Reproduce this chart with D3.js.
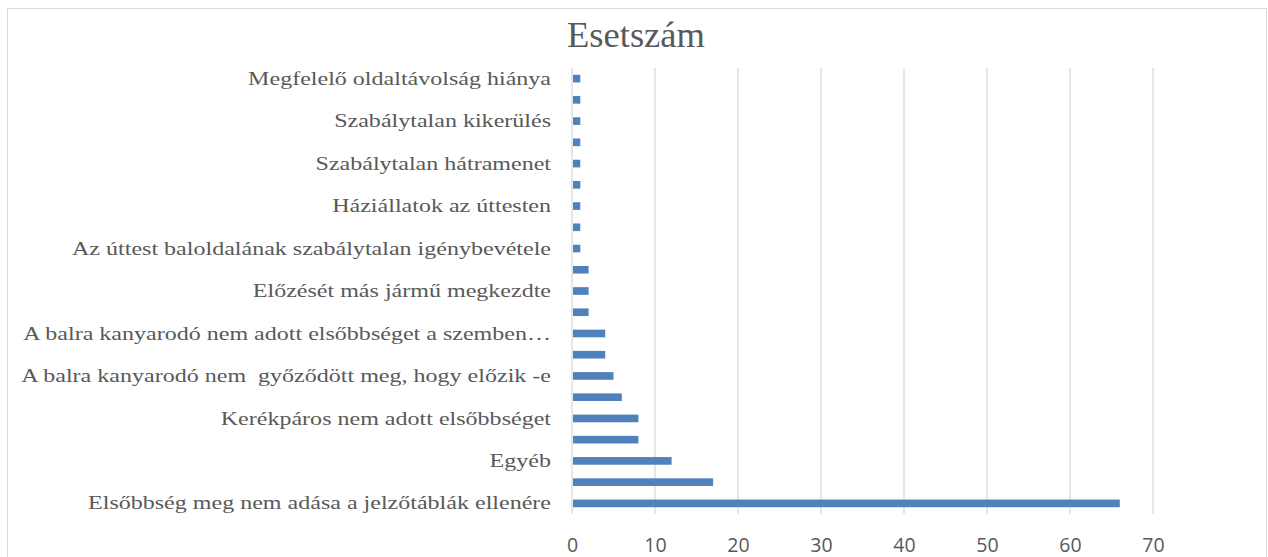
<!DOCTYPE html>
<html>
<head>
<meta charset="utf-8">
<script src="https://cdn.jsdelivr.net/npm/d3@7"></script>
<style>
  body { margin: 0; background: #fff; }
  .grid line { stroke: #d9d9d9; stroke-width: 1.3; }
  .cat text { font-family: "Liberation Serif", "Times New Roman", serif; font-size: 19px; fill: #595959; white-space: pre; }
  .val text { font-family: "Open Sans", "Liberation Sans", sans-serif; font-size: 19.5px; fill: #595959; }
</style>
</head>
<body>
<div id="chart-container"></div>
<script>
  // categories from top to bottom (only every other one has a visible label)
  var labels = [
    'Megfelelő oldaltávolság hiánya', '',
    'Szabálytalan kikerülés', '',
    'Szabálytalan hátramenet', '',
    'Háziállatok az úttesten', '',
    'Az úttest baloldalának szabálytalan igénybevétele', '',
    'Előzését más jármű megkezdte', '',
    'A balra kanyarodó nem adott elsőbbséget a szemben…', '',
    'A balra kanyarodó nem  győződött meg, hogy előzik -e', '',
    'Kerékpáros nem adott elsőbbséget', '',
    'Egyéb', '',
    'Elsőbbség meg nem adása a jelzőtáblák ellenére'
  ];
  var values = [1, 1, 1, 1, 1, 1, 1, 1, 1, 2, 2, 2, 4, 4, 5, 6, 8, 8, 12, 17, 66];
  var xTicks = [0, 10, 20, 30, 40, 50, 60, 70];
  var title = 'Esetszám';

  var W = 1268, H = 557;
  var margin = { top: 68, left: 572, right: 115, bottom: 43 };
  var stretch = 1.265; // labels in the original are drawn wider than the font

  var svg = d3.select("#chart-container")
    .append("svg")
    .attr("width", W)
    .attr("height", H);

  // chart frame
  svg.append("rect")
    .attr("x", 7.5).attr("y", 8.5)
    .attr("width", 1259).attr("height", 600)
    .attr("fill", "none")
    .attr("stroke", "#d9d9d9");

  svg.append("text")
    .attr("x", 636).attr("y", 47)
    .attr("text-anchor", "middle")
    .style("font-family", "'Liberation Serif', 'Times New Roman', serif")
    .style("font-size", "36.5px")
    .style("fill", "#595959")
    .text(title);

  var xScale = d3.scaleLinear()
    .domain([0, 70])
    .range([margin.left, W - margin.right]);

  var yScale = d3.scaleBand()
    .domain(d3.range(values.length))
    .range([margin.top, H - margin.bottom])
    .paddingInner(0.64)
    .paddingOuter(0.32);

  svg.append("g")
    .attr("class", "grid")
    .selectAll("line")
    .data(xTicks)
    .enter()
    .append("line")
    .attr("x1", function(d) { return xScale(d); })
    .attr("x2", function(d) { return xScale(d); })
    .attr("y1", margin.top)
    .attr("y2", H - margin.bottom);

  svg.append("g")
    .selectAll("rect")
    .data(values)
    .enter()
    .append("rect")
    .attr("x", xScale(0) + 1)
    .attr("y", function(d, i) { return yScale(i); })
    .attr("width", function(d) { return xScale(d) - xScale(0) - 1; })
    .attr("height", yScale.bandwidth())
    .attr("fill", "#4f81bd");

  var yAxis = d3.axisLeft(yScale)
    .tickSize(0)
    .tickPadding(21)
    .tickValues(d3.range(values.length).filter(function(i) { return labels[i] !== ''; }))
    .tickFormat(function(i) { return labels[i]; });

  svg.append("g")
    .attr("class", "cat")
    .attr("transform", "translate(" + margin.left + ",0)")
    .call(yAxis)
    .call(function(g) { g.select(".domain").remove(); });

  svg.selectAll(".cat text")
    .attr("x", -21 / stretch)
    .attr("transform", "scale(" + stretch + ",1)");

  var xAxis = d3.axisBottom(xScale)
    .tickValues(xTicks)
    .tickSize(0)
    .tickPadding(24);

  svg.append("g")
    .attr("class", "val")
    .attr("transform", "translate(0," + (H - margin.bottom) + ")")
    .call(xAxis)
    .call(function(g) { g.select(".domain").remove(); });
</script>
</body>
</html>
